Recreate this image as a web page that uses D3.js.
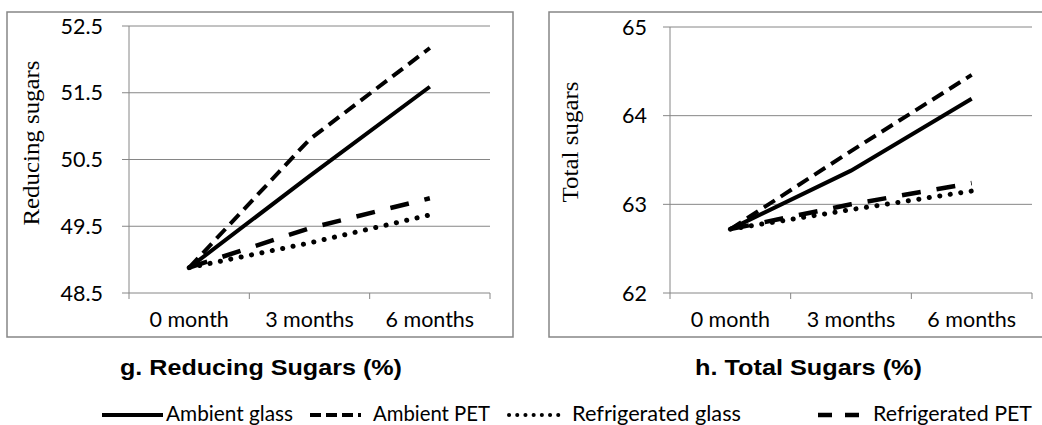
<!DOCTYPE html>
<html>
<head>
<meta charset="utf-8">
<script src="https://cdn.jsdelivr.net/npm/d3@7"></script>
<style>
  body { margin: 0; background: #fff; }
  svg { display: block; }
  .tick-label { font-family: Lato, "Open Sans", sans-serif; font-size: 21.5px; fill: #000; }
  .axis-title { font-family: "Liberation Serif", "Times New Roman", serif; font-size: 23px; fill: #000; }
  .panel-title { font-family: "Liberation Sans", Arial, sans-serif; font-size: 22px; font-weight: bold; fill: #000; }
  .legend-label { font-family: Lato, "Open Sans", sans-serif; font-size: 21px; fill: #000; }
</style>
</head>
<body>
<svg id="chart" width="1042" height="425"></svg>
<script>
// values
const months = ["0 month", "3 months", "6 months"];
const seriesNames = ["Ambient glass", "Ambient PET", "Refrigerated glass", "Refrigerated PET"];

const reducingAmbientGlass = [48.88, 50.25, 51.59];
const reducingAmbientPET = [48.88, 50.8, 52.17];
const reducingRefrigGlass = [48.88, 49.25, 49.67];
const reducingRefrigPET = [48.88, 49.47, 49.92];
const reducingTicks = [48.5, 49.5, 50.5, 51.5, 52.5];

const totalAmbientGlass = [62.72, 63.38, 64.19];
const totalAmbientPET = [62.72, 63.6, 64.46];
const totalRefrigGlass = [62.72, 62.94, 63.15];
const totalRefrigPET = [62.72, 63.0, 63.24];
const totalTicks = [62, 63, 64, 65];

// line styles per series
const styles = {
    "Ambient glass": { dash: null, width: 4, cap: "butt" },
    "Ambient PET": { dash: "13,7", width: 4, cap: "butt" },
    "Refrigerated glass": { dash: "0.1,10.5", width: 5, cap: "round" },
    "Refrigerated PET": { dash: "19,16", width: 4.5, cap: "butt" }
};

const svg = d3.select('#chart');
const grey = '#868686';

function drawPanel(p) {
    const g = svg.append('g');

    // outer frame
    g.append('rect')
        .attr('x', p.frame[0]).attr('y', 12)
        .attr('width', p.frame[1] - p.frame[0]).attr('height', 325)
        .attr('fill', 'none').attr('stroke', grey).attr('stroke-width', 1.5);

    const x = d3.scalePoint().domain(months).range([p.left, p.right]).padding(0.5);
    const y = d3.scaleLinear().domain(d3.extent(p.ticks)).range([293, p.top]);
    const step = x.step();

    // gridlines
    g.selectAll('.grid').data(p.ticks.slice(1)).enter().append('line')
        .attr('x1', p.left).attr('x2', p.right)
        .attr('y1', d => y(d)).attr('y2', d => y(d))
        .attr('stroke', grey).attr('stroke-width', 1);

    // y axis + ticks
    g.append('line').attr('x1', p.left).attr('x2', p.left)
        .attr('y1', y(p.ticks[p.ticks.length - 1])).attr('y2', 293)
        .attr('stroke', grey).attr('stroke-width', 1);
    g.selectAll('.ytick').data(p.ticks).enter().append('line')
        .attr('x1', p.left - 7).attr('x2', p.left)
        .attr('y1', d => y(d)).attr('y2', d => y(d))
        .attr('stroke', grey);
    g.selectAll('.ylabel').data(p.ticks).enter().append('text')
        .attr('class', 'tick-label')
        .attr('x', p.labelX).attr('y', d => y(d) + 7.5)
        .attr('text-anchor', 'end')
        .text(d => p.fmt(d));

    // x axis + ticks on band boundaries
    g.append('line').attr('x1', p.left).attr('x2', p.right)
        .attr('y1', 293).attr('y2', 293)
        .attr('stroke', grey).attr('stroke-width', 1);
    g.selectAll('.xtick').data(d3.range(months.length + 1)).enter().append('line')
        .attr('x1', i => p.left + i * step).attr('x2', i => p.left + i * step)
        .attr('y1', 293).attr('y2', 299)
        .attr('stroke', grey);
    g.selectAll('.xlabel').data(months).enter().append('text')
        .attr('class', 'tick-label')
        .attr('x', d => x(d)).attr('y', 327)
        .attr('text-anchor', 'middle')
        .text(d => d);

    // axis title
    g.append('text').attr('class', 'axis-title')
        .attr('transform', `translate(${p.titleX},${p.titleY}) rotate(-90)`)
        .attr('text-anchor', 'middle')
        .attr('textLength', p.titleLen).attr('lengthAdjust', 'spacingAndGlyphs')
        .text(p.yTitle);

    // lines
    const line = d3.line().x((d, i) => x(months[i])).y(d => y(d));
    const order = [2, 3, 0, 1];
    order.forEach(k => {
        const st = styles[seriesNames[k]];
        g.append('path')
            .attr('d', line(p.series[k]))
            .attr('fill', 'none')
            .attr('stroke', '#000')
            .attr('stroke-width', st.width)
            .attr('stroke-linecap', st.cap)
            .attr('stroke-dasharray', st.dash);
    });

    // panel caption
    svg.append('text').attr('class', 'panel-title')
        .attr('x', p.caption[0]).attr('y', 375)
        .attr('textLength', p.caption[1] - p.caption[0]).attr('lengthAdjust', 'spacingAndGlyphs')
        .text(p.captionText);
}

drawPanel({
    frame: [7, 513], left: 129, right: 490, top: 26, labelX: 103,
    ticks: reducingTicks, fmt: d3.format('.1f'),
    series: [reducingAmbientGlass, reducingAmbientPET, reducingRefrigGlass, reducingRefrigPET],
    yTitle: 'Reducing sugars', titleX: 39, titleY: 143, titleLen: 165,
    caption: [120, 402], captionText: 'g. Reducing Sugars (%)'
});

drawPanel({
    frame: [549, 1046], left: 670, right: 1032, top: 27, labelX: 647,
    ticks: totalTicks, fmt: d3.format('d'),
    series: [totalAmbientGlass, totalAmbientPET, totalRefrigGlass, totalRefrigPET],
    yTitle: 'Total sugars', titleX: 578, titleY: 142, titleLen: 121,
    caption: [695, 922], captionText: 'h. Total Sugars (%)'
});

// legend
const legendItems = [
    { x1: 102, x2: 163, tx: 166, tw: 127, dash: null, width: 4, cap: 'butt' },
    { x1: 310, x2: 369, tx: 373, tw: 117, dash: '11,5,11,5,11,5,3', width: 4, cap: 'butt' },
    { x1: 509, x2: 565, tx: 572, tw: 169, dash: '0.1,8.1', width: 4, cap: 'round' },
    { x1: 818, x2: 859, tx: 873, tw: 159, dash: '14,13', width: 4.5, cap: 'butt' }
];

const legend = svg.append('g');
legendItems.forEach((d, i) => {
    legend.append('line')
        .attr('x1', d.x1).attr('x2', d.x2).attr('y1', 415).attr('y2', 415)
        .attr('stroke', '#000').attr('stroke-width', d.width)
        .attr('stroke-linecap', d.cap)
        .attr('stroke-dasharray', d.dash);
    legend.append('text').attr('class', 'legend-label')
        .attr('x', d.tx).attr('y', 421)
        .attr('textLength', d.tw).attr('lengthAdjust', 'spacingAndGlyphs')
        .text(seriesNames[i]);
});
</script>
</body>
</html>
